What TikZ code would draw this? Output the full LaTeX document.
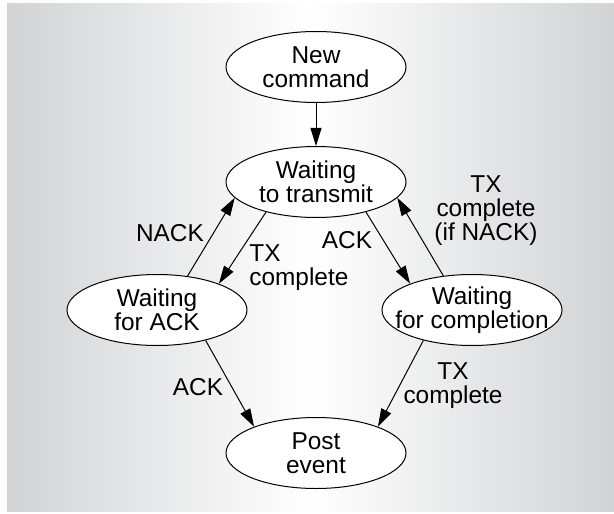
\documentclass[tikz,border=0pt]{standalone}
\usepackage{fontspec}
\setmainfont{Liberation Sans}
\usepackage{tikz}
\usetikzlibrary{arrows.meta,shapes.geometric}
\definecolor{bggray}{HTML}{D2D3D5}

\begin{document}
\begin{tikzpicture}[x=0.5pt,y=-0.5pt,font=\fontsize{12.2}{12}\selectfont,
  state/.style={ellipse,draw,fill=white,line width=0.5pt,align=center,
    minimum width=90pt,minimum height=35.5pt,inner xsep=-7pt,inner ysep=0pt},
  lbl/.style={inner sep=0pt,align=center},
  arr/.style={-{Triangle[length=9pt,width=5.5pt]},line width=0.5pt}]
\useasboundingbox (0,0) rectangle (614,513);
\shade[left color=bggray,right color=bggray,middle color=white] (7,4) rectangle (614,511);
% states
\node[state] (newcmd) at (316,67) {New\\command};
\node[state] (waittx) at (316,182) {Waiting\\to transmit};
\node[state] (waitack) at (157,310) {Waiting\\for ACK};
\node[state] (waitdone) at (472,310) {Waiting\\for completion};
\node[state] (post) at (316,453) {Post\\event};
% transitions
\draw[arr] (newcmd) -- (waittx);
\draw[arr] (waitack.48) -- (waittx.191);
\draw[arr] (waittx.211) -- (waitack.23);
\draw[arr] (waittx.329) -- (waitdone.157);
\draw[arr] (waitdone.130) -- (waittx.349);
\draw[arr] (waitack.328) -- (post.157);
\draw[arr] (waitdone.212) -- (post.23);
% labels
\node[lbl] (nack) at (170,233) {NACK};
\node[lbl,align=left,anchor=west] (txleft) at (249,268) {TX\\complete};
\node[lbl] (ackup) at (347,240) {ACK};
\node[lbl] (txnack) at (486,211) {TX\\complete\\(if NACK)};
\node[lbl] (acklow) at (198,387) {ACK};
\node[lbl] (txlow) at (453,386) {TX\\complete};
\end{tikzpicture}
\end{document}
